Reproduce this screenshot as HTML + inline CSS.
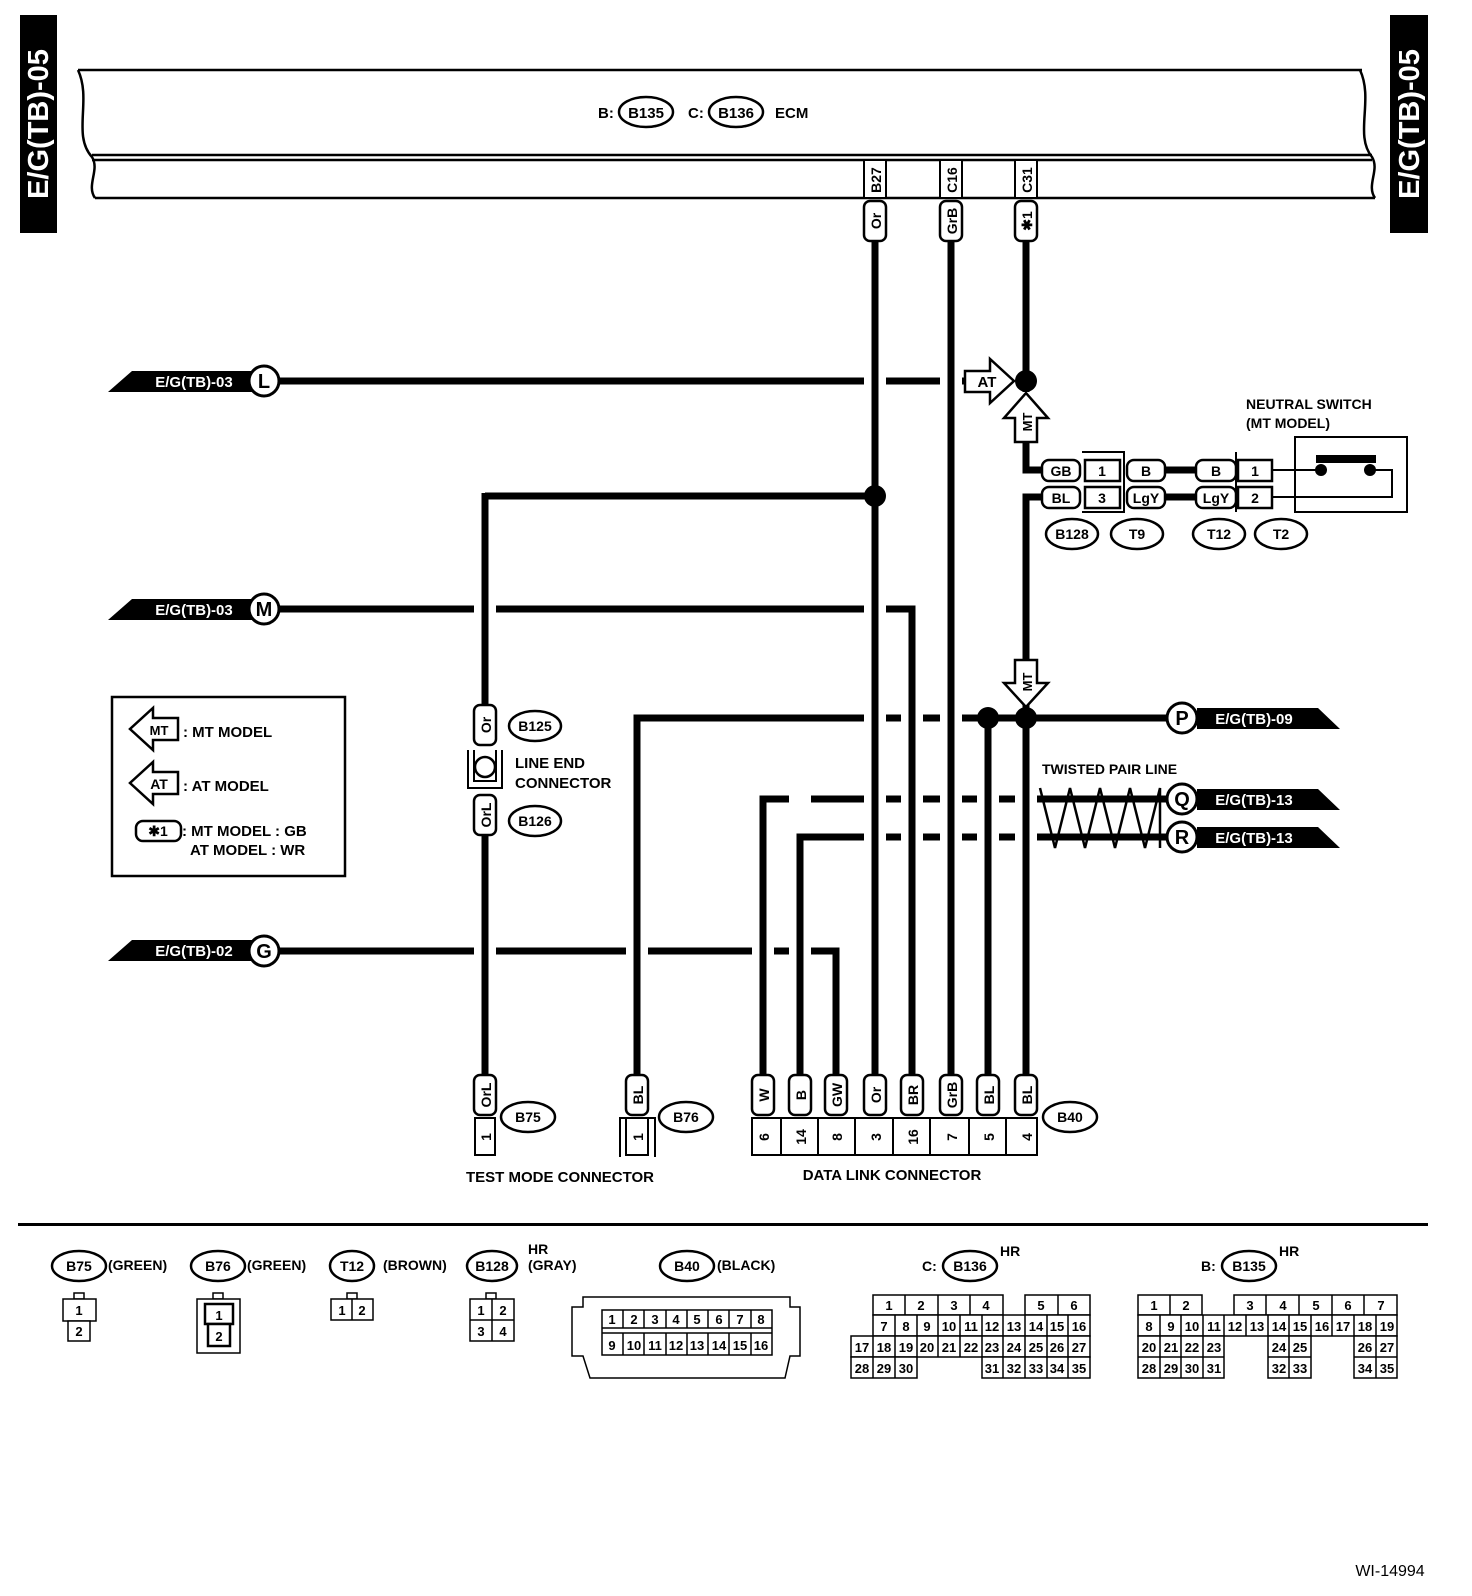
<!DOCTYPE html>
<html><head><meta charset="utf-8"><style>
html,body{margin:0;padding:0;background:#fff}
svg{display:block}
text{font-family:"Liberation Sans",Arial,sans-serif;font-weight:bold;fill:#000}
.w{fill:#fff}
</style></head><body>
<svg width="1472" height="1596" viewBox="0 0 1472 1596" xmlns="http://www.w3.org/2000/svg">
<rect x="20" y="15" width="37" height="218" fill="#000"/>
<text class="w" transform="translate(48,124) rotate(-90)" font-size="29" text-anchor="middle">E/G(TB)-05</text>
<rect x="1390" y="15" width="38" height="218" fill="#000"/>
<text class="w" transform="translate(1419,124) rotate(-90)" font-size="29" text-anchor="middle">E/G(TB)-05</text>

<g fill="none" stroke="#000" stroke-width="2.5">
<path d="M78,70 H1362"/>
<path d="M92,155 H1372 M92,160 H1372"/>
<path d="M95,198 H1375"/>
<path d="M78,70 C92,100 72,135 92,157 C100,170 86,185 95,198"/>
<path d="M1360,70 C1374,100 1354,135 1372,157 C1380,170 1366,185 1375,198"/>
</g>
<text x="598" y="118" font-size="15">B:</text>
<ellipse cx="646" cy="112" rx="27" ry="15" fill="#fff" stroke="#000" stroke-width="2.5"/>
<text x="646" y="118" font-size="15" text-anchor="middle">B135</text>
<text x="688" y="118" font-size="15">C:</text>
<ellipse cx="736" cy="112" rx="27" ry="15" fill="#fff" stroke="#000" stroke-width="2.5"/>
<text x="736" y="118" font-size="15" text-anchor="middle">B136</text>
<text x="775" y="118" font-size="15">ECM</text>

<g fill="#fff" stroke="#000" stroke-width="2">
<rect x="864" y="160" width="22" height="38"/>
<rect x="940" y="160" width="22" height="38"/>
<rect x="1015" y="160" width="22" height="38"/>
</g>
<text transform="translate(881,180) rotate(-90)" font-size="14" text-anchor="middle">B27</text>
<text transform="translate(957,180) rotate(-90)" font-size="14" text-anchor="middle">C16</text>
<text transform="translate(1032,180) rotate(-90)" font-size="14" text-anchor="middle">C31</text>

<g stroke="#000" stroke-width="7" fill="none">
<path d="M280,381 H965"/>
<path d="M875,496 H485"/>
<path d="M280,609 H912 V1075"/>
<path d="M637,1075 V718 H1168"/>
<path d="M763,1075 V799 H1168"/>
<path d="M800,1075 V837 H1168"/>
<path d="M280,951 H836 V1075"/>
<path d="M1026,240 V392"/>
<path d="M1026,442 V470 H1042"/>
<path d="M1042,497 H1026 V660"/>
<path d="M1165,470 H1196 M1165,497 H1196"/>
</g>
<g fill="#fff">
<rect x="864" y="370" width="22" height="22"/>
<rect x="940" y="370" width="22" height="22"/>
<rect x="474" y="598" width="22" height="22"/>
<rect x="864" y="598" width="22" height="22"/>
<rect x="864" y="707" width="22" height="22"/>
<rect x="901" y="707" width="22" height="22"/>
<rect x="940" y="707" width="22" height="22"/>
<rect x="789" y="788" width="22" height="22"/>
<rect x="864" y="788" width="22" height="22"/>
<rect x="901" y="788" width="22" height="22"/>
<rect x="940" y="788" width="22" height="22"/>
<rect x="977" y="788" width="22" height="22"/>
<rect x="1015" y="788" width="22" height="22"/>
<rect x="864" y="826" width="22" height="22"/>
<rect x="901" y="826" width="22" height="22"/>
<rect x="940" y="826" width="22" height="22"/>
<rect x="977" y="826" width="22" height="22"/>
<rect x="1015" y="826" width="22" height="22"/>
<rect x="474" y="940" width="22" height="22"/>
<rect x="626" y="940" width="22" height="22"/>
<rect x="752" y="940" width="22" height="22"/>
<rect x="789" y="940" width="22" height="22"/>
</g>
<g stroke="#000" stroke-width="7" fill="none">
<path d="M485,493 V705"/>
<path d="M485,835 V1075"/>
<path d="M875,240 V1075"/>
<path d="M951,240 V1075"/>
<path d="M988,718 V1075"/>
<path d="M1026,705 V1075"/>
<path d="M912,609 V1075"/>
<path d="M637,718 V1075"/>
<path d="M763,799 V1075"/>
<path d="M800,837 V1075"/>
<path d="M836,951 V1075"/>
</g>
<g fill="#000">
<circle cx="1026" cy="381" r="11"/>
<circle cx="875" cy="496" r="11"/>
<circle cx="988" cy="718" r="11"/>
<circle cx="1026" cy="718" r="11"/>
</g>

<g fill="#fff" stroke="#000" stroke-width="2.5">
<rect x="864" y="201" width="22" height="40" rx="6"/>
<rect x="940" y="201" width="22" height="40" rx="6"/>
<rect x="1015" y="201" width="22" height="40" rx="6"/>
</g>
<text transform="translate(881,221) rotate(-90)" font-size="14" text-anchor="middle">Or</text>
<text transform="translate(957,221) rotate(-90)" font-size="14" text-anchor="middle">GrB</text>
<text transform="translate(1032,221) rotate(-90)" font-size="14" text-anchor="middle">✱1</text>

<g fill="#fff" stroke="#000" stroke-width="2.5">
<path d="M965,371 H990 V359 L1014,381 L990,403 V392 H965 Z"/>
<path d="M1015,442 V418 H1004 L1026,393 L1048,418 H1037 V442 Z"/>
<path d="M1015,660 V683 H1004 L1026,707 L1048,683 H1037 V660 Z"/>
</g>
<text x="987" y="387" font-size="15" text-anchor="middle">AT</text>
<text transform="translate(1032,422) rotate(-90)" font-size="13" text-anchor="middle">MT</text>
<text transform="translate(1032,682) rotate(-90)" font-size="13" text-anchor="middle">MT</text>

<g fill="#000">
<path d="M108,392 L132,371 H256 V392 Z"/>
<path d="M108,620 L132,599 H256 V620 Z"/>
<path d="M108,961 L132,940 H256 V961 Z"/>
</g>
<g font-size="15" text-anchor="middle">
<text class="w" x="194" y="387">E/G(TB)-03</text>
<text class="w" x="194" y="615">E/G(TB)-03</text>
<text class="w" x="194" y="956">E/G(TB)-02</text>
</g>
<g fill="#fff" stroke="#000" stroke-width="3">
<circle cx="264" cy="381" r="15"/>
<circle cx="264" cy="609" r="15"/>
<circle cx="264" cy="951" r="15"/>
<circle cx="1182" cy="718" r="15"/>
<circle cx="1182" cy="799" r="15"/>
<circle cx="1182" cy="837" r="15"/>
</g>
<g font-size="20" text-anchor="middle">
<text x="264" y="388">L</text><text x="264" y="616">M</text><text x="264" y="958">G</text>
<text x="1182" y="725">P</text><text x="1182" y="806">Q</text><text x="1182" y="844">R</text>
</g>
<g fill="#000">
<path d="M1197,708 H1318 L1340,729 H1197 Z"/>
<path d="M1197,789 H1318 L1340,810 H1197 Z"/>
<path d="M1197,827 H1318 L1340,848 H1197 Z"/>
</g>
<g font-size="15" text-anchor="middle">
<text class="w" x="1254" y="724">E/G(TB)-09</text>
<text class="w" x="1254" y="805">E/G(TB)-13</text>
<text class="w" x="1254" y="843">E/G(TB)-13</text>
</g>

<text x="1042" y="774" font-size="14">TWISTED PAIR LINE</text>
<polyline fill="none" stroke="#000" stroke-width="2.5" points="1040,788 1055,848 1070,788 1085,848 1100,788 1115,848 1130,788 1145,848 1160,788 1160,848"/>

<text x="1246" y="409" font-size="14">NEUTRAL SWITCH</text>
<text x="1246" y="428" font-size="14">(MT MODEL)</text>
<g fill="#fff" stroke="#000" stroke-width="2.5">
<rect x="1042" y="460" width="38" height="21" rx="7"/>
<rect x="1042" y="487" width="38" height="21" rx="7"/>
<rect x="1127" y="460" width="38" height="21" rx="7"/>
<rect x="1127" y="487" width="38" height="21" rx="7"/>
<rect x="1196" y="460" width="40" height="21" rx="7"/>
<rect x="1196" y="487" width="40" height="21" rx="7"/>
<rect x="1085" y="460" width="35" height="21"/>
<rect x="1085" y="487" width="35" height="21"/>
<rect x="1238" y="460" width="34" height="21"/>
<rect x="1238" y="487" width="34" height="21"/>
</g>
<path d="M1082,452 H1124 V512 H1082" fill="none" stroke="#000" stroke-width="2"/>
<path d="M1236,452 V512" fill="none" stroke="#000" stroke-width="2"/>
<g font-size="14" text-anchor="middle">
<text x="1061" y="476">GB</text><text x="1061" y="503">BL</text>
<text x="1102" y="476">1</text><text x="1102" y="503">3</text>
<text x="1146" y="476">B</text><text x="1146" y="503">LgY</text>
<text x="1216" y="476">B</text><text x="1216" y="503">LgY</text>
<text x="1255" y="476">1</text><text x="1255" y="503">2</text>
</g>
<rect x="1295" y="437" width="112" height="75" fill="none" stroke="#000" stroke-width="2"/>
<g fill="none" stroke="#000" stroke-width="2">
<path d="M1272,470 H1321 M1272,497 H1392 V470 H1370"/>
</g>
<rect x="1316" y="455" width="60" height="8" fill="#000"/>
<circle cx="1321" cy="470" r="6" fill="#000"/>
<circle cx="1370" cy="470" r="6" fill="#000"/>
<g fill="#fff" stroke="#000" stroke-width="2.5">
<ellipse cx="1072" cy="534" rx="26" ry="15"/>
<ellipse cx="1137" cy="534" rx="26" ry="15"/>
<ellipse cx="1219" cy="534" rx="26" ry="15"/>
<ellipse cx="1281" cy="534" rx="26" ry="15"/>
</g>
<g font-size="14" text-anchor="middle">
<text x="1072" y="539">B128</text><text x="1137" y="539">T9</text><text x="1219" y="539">T12</text><text x="1281" y="539">T2</text>
</g>

<g fill="#fff" stroke="#000" stroke-width="2.5">
<rect x="474" y="705" width="22" height="40" rx="6"/>
<rect x="474" y="795" width="22" height="40" rx="6"/>
<ellipse cx="535" cy="726" rx="26" ry="15"/>
<ellipse cx="535" cy="821" rx="26" ry="15"/>
</g>
<path d="M468,750 V788 H502 V750 M474,750 V781 H496 V750" fill="none" stroke="#000" stroke-width="2"/>
<circle cx="485" cy="767" r="10" fill="#fff" stroke="#000" stroke-width="2.5"/>
<text transform="translate(491,725) rotate(-90)" font-size="14" text-anchor="middle">Or</text>
<text transform="translate(491,815) rotate(-90)" font-size="14" text-anchor="middle">OrL</text>
<text x="535" y="731" font-size="14" text-anchor="middle">B125</text>
<text x="535" y="826" font-size="14" text-anchor="middle">B126</text>
<text x="515" y="768" font-size="15">LINE END</text>
<text x="515" y="788" font-size="15">CONNECTOR</text>

<rect x="112" y="697" width="233" height="179" fill="none" stroke="#000" stroke-width="2.5"/>
<g fill="#fff" stroke="#000" stroke-width="2.5">
<path d="M178,718 H153 V708 L130,729 L153,750 V740 H178 Z"/>
<path d="M178,772 H153 V762 L130,783 L153,804 V794 H178 Z"/>
<rect x="136" y="821" width="45" height="20" rx="7"/>
</g>
<text x="159" y="735" font-size="13" text-anchor="middle" font-weight="normal">MT</text>
<text x="159" y="789" font-size="14" text-anchor="middle">AT</text>
<text x="158" y="836" font-size="14" text-anchor="middle">✱1</text>
<g font-size="15">
<text x="183" y="737">: MT MODEL</text>
<text x="183" y="791">: AT MODEL</text>
<text x="182" y="836">: MT MODEL : GB</text>
<text x="190" y="855">AT MODEL : WR</text>
</g>

<g fill="#fff" stroke="#000" stroke-width="2.5">
<rect x="474" y="1075" width="22" height="40" rx="6"/>
<rect x="626" y="1075" width="22" height="40" rx="6"/>
<rect x="752" y="1075" width="22" height="40" rx="6"/>
<rect x="789" y="1075" width="22" height="40" rx="6"/>
<rect x="825" y="1075" width="22" height="40" rx="6"/>
<rect x="864" y="1075" width="22" height="40" rx="6"/>
<rect x="901" y="1075" width="22" height="40" rx="6"/>
<rect x="940" y="1075" width="22" height="40" rx="6"/>
<rect x="977" y="1075" width="22" height="40" rx="6"/>
<rect x="1015" y="1075" width="22" height="40" rx="6"/>
</g>
<g font-size="14" text-anchor="middle">
<text transform="translate(491,1095) rotate(-90)">OrL</text>
<text transform="translate(643,1095) rotate(-90)">BL</text>
<text transform="translate(769,1095) rotate(-90)">W</text>
<text transform="translate(806,1095) rotate(-90)">B</text>
<text transform="translate(842,1095) rotate(-90)">GW</text>
<text transform="translate(881,1095) rotate(-90)">Or</text>
<text transform="translate(918,1095) rotate(-90)">BR</text>
<text transform="translate(957,1095) rotate(-90)">GrB</text>
<text transform="translate(994,1095) rotate(-90)">BL</text>
<text transform="translate(1032,1095) rotate(-90)">BL</text>
</g>
<g fill="#fff" stroke="#000" stroke-width="2">
<rect x="475" y="1118" width="20" height="37"/>
<path d="M620,1157 V1118 H626 M648,1118 H655 V1157"/>
<rect x="626" y="1118" width="22" height="37"/>
<rect x="752" y="1118" width="285" height="37"/>
</g>
<g stroke="#000" stroke-width="2">
<path d="M781,1118 V1155 M818,1118 V1155 M855,1118 V1155 M893,1118 V1155 M930,1118 V1155 M969,1118 V1155 M1006,1118 V1155"/>
</g>
<g font-size="14" text-anchor="middle">
<text transform="translate(491,1137) rotate(-90)">1</text>
<text transform="translate(643,1137) rotate(-90)">1</text>
<text transform="translate(769,1137) rotate(-90)">6</text>
<text transform="translate(806,1137) rotate(-90)">14</text>
<text transform="translate(842,1137) rotate(-90)">8</text>
<text transform="translate(881,1137) rotate(-90)">3</text>
<text transform="translate(918,1137) rotate(-90)">16</text>
<text transform="translate(957,1137) rotate(-90)">7</text>
<text transform="translate(994,1137) rotate(-90)">5</text>
<text transform="translate(1032,1137) rotate(-90)">4</text>
</g>
<g fill="#fff" stroke="#000" stroke-width="2.5">
<ellipse cx="528" cy="1117" rx="27" ry="15"/>
<ellipse cx="686" cy="1117" rx="27" ry="15"/>
<ellipse cx="1070" cy="1117" rx="27" ry="15"/>
</g>
<g font-size="14" text-anchor="middle">
<text x="528" y="1122">B75</text><text x="686" y="1122">B76</text><text x="1070" y="1122">B40</text>
</g>
<text x="560" y="1182" font-size="15" text-anchor="middle">TEST MODE CONNECTOR</text>
<text x="892" y="1180" font-size="15" text-anchor="middle">DATA LINK CONNECTOR</text>

<rect x="18" y="1223" width="1410" height="3" fill="#000"/>

<g fill="#fff" stroke="#000" stroke-width="2.5">
<ellipse cx="79" cy="1266" rx="27" ry="15"/>
<ellipse cx="218" cy="1266" rx="27" ry="15"/>
<ellipse cx="352" cy="1266" rx="22" ry="15"/>
<ellipse cx="492" cy="1266" rx="25" ry="15"/>
<ellipse cx="687" cy="1266" rx="27" ry="15"/>
<ellipse cx="970" cy="1266" rx="27" ry="15"/>
<ellipse cx="1249" cy="1266" rx="27" ry="15"/>
</g>
<g font-size="14">
<text x="79" y="1271" text-anchor="middle">B75</text>
<text x="218" y="1271" text-anchor="middle">B76</text>
<text x="352" y="1271" text-anchor="middle">T12</text>
<text x="492" y="1271" text-anchor="middle">B128</text>
<text x="687" y="1271" text-anchor="middle">B40</text>
<text x="970" y="1271" text-anchor="middle">B136</text>
<text x="1249" y="1271" text-anchor="middle">B135</text>
<text x="108" y="1270">(GREEN)</text>
<text x="247" y="1270">(GREEN)</text>
<text x="383" y="1270">(BROWN)</text>
<text x="528" y="1270">(GRAY)</text>
<text x="528" y="1254">HR</text>
<text x="717" y="1270">(BLACK)</text>
<text x="922" y="1271">C:</text>
<text x="1000" y="1256">HR</text>
<text x="1201" y="1271">B:</text>
<text x="1279" y="1256">HR</text>
</g>
<g fill="#fff" stroke="#000" stroke-width="1.5">
<rect x="74" y="1293" width="10" height="6"/>
<rect x="63" y="1299" width="33" height="22"/>
<rect x="68" y="1321" width="22" height="20"/>
<rect x="213" y="1293" width="10" height="6"/>
<rect x="197" y="1299" width="43" height="54"/>
<rect x="205" y="1304" width="28" height="20" stroke-width="2.5"/>
<rect x="208" y="1324" width="22" height="22" stroke-width="2.5"/>
<rect x="347" y="1293" width="10" height="6"/>
<rect x="331" y="1299" width="42" height="21"/>
<path d="M352,1299 V1320"/>
<rect x="486" y="1293" width="10" height="6"/>
<rect x="470" y="1299" width="44" height="42"/>
<path d="M492,1299 V1341 M470,1320 H514"/>
<path d="M583,1297 H790 V1307 H800 V1356 H790 L785,1378 H590 L583,1356 H572 V1307 H583 Z"/>
<rect x="602" y="1310" width="170" height="45"/>
<path d="M602,1328 H772 M602,1333 H772 M623,1310 V1328 M644,1310 V1328 M666,1310 V1328 M687,1310 V1328 M708,1310 V1328 M729,1310 V1328 M751,1310 V1328 M623,1333 V1355 M644,1333 V1355 M666,1333 V1355 M687,1333 V1355 M708,1333 V1355 M729,1333 V1355 M751,1333 V1355"/>
</g>
<g font-size="13" text-anchor="middle" style="font-weight:normal">
<text x="79" y="1315">1</text><text x="79" y="1336">2</text>
<text x="219" y="1320">1</text><text x="219" y="1341">2</text>
<text x="342" y="1315">1</text><text x="362" y="1315">2</text>
<text x="481" y="1315">1</text><text x="503" y="1315">2</text>
<text x="481" y="1336">3</text><text x="503" y="1336">4</text>
</g>
<g font-size="13" text-anchor="middle" style="font-weight:normal">
<text x="612" y="1324">1</text><text x="634" y="1324">2</text><text x="655" y="1324">3</text><text x="676" y="1324">4</text><text x="697" y="1324">5</text><text x="719" y="1324">6</text><text x="740" y="1324">7</text><text x="761" y="1324">8</text>
<text x="612" y="1350">9</text><text x="634" y="1350">10</text><text x="655" y="1350">11</text><text x="676" y="1350">12</text><text x="697" y="1350">13</text><text x="719" y="1350">14</text><text x="740" y="1350">15</text><text x="761" y="1350">16</text>
</g>

<g fill="#fff" stroke="#000" stroke-width="1.5">
<path d="M873,1295 H1003 V1315 H873 Z M905,1295 V1315 M938,1295 V1315 M970,1295 V1315"/>
<path d="M1025,1295 H1090 V1315 H1025 Z M1058,1295 V1315"/>
<path d="M873,1315 H1090 V1336 H873 Z M895,1315 V1336 M917,1315 V1336 M938,1315 V1336 M960,1315 V1336 M982,1315 V1336 M1003,1315 V1336 M1025,1315 V1336 M1047,1315 V1336 M1068,1315 V1336"/>
<path d="M851,1336 H1090 V1357 H851 Z M873,1336 V1357 M895,1336 V1357 M917,1336 V1357 M938,1336 V1357 M960,1336 V1357 M982,1336 V1357 M1003,1336 V1357 M1025,1336 V1357 M1047,1336 V1357 M1068,1336 V1357"/>
<path d="M851,1357 H917 V1378 H851 Z M873,1357 V1378 M895,1357 V1378"/>
<path d="M982,1357 H1090 V1378 H982 Z M1003,1357 V1378 M1025,1357 V1378 M1047,1357 V1378 M1068,1357 V1378"/>
</g>
<g font-size="13" text-anchor="middle" style="font-weight:normal">
<text x="889" y="1310">1</text><text x="921" y="1310">2</text><text x="954" y="1310">3</text><text x="986" y="1310">4</text><text x="1041" y="1310">5</text><text x="1074" y="1310">6</text>
<text x="884" y="1331">7</text><text x="906" y="1331">8</text><text x="927" y="1331">9</text><text x="949" y="1331">10</text><text x="971" y="1331">11</text><text x="992" y="1331">12</text><text x="1014" y="1331">13</text><text x="1036" y="1331">14</text><text x="1057" y="1331">15</text><text x="1079" y="1331">16</text>
<text x="862" y="1352">17</text><text x="884" y="1352">18</text><text x="906" y="1352">19</text><text x="927" y="1352">20</text><text x="949" y="1352">21</text><text x="971" y="1352">22</text><text x="992" y="1352">23</text><text x="1014" y="1352">24</text><text x="1036" y="1352">25</text><text x="1057" y="1352">26</text><text x="1079" y="1352">27</text>
<text x="862" y="1373">28</text><text x="884" y="1373">29</text><text x="906" y="1373">30</text>
<text x="992" y="1373">31</text><text x="1014" y="1373">32</text><text x="1036" y="1373">33</text><text x="1057" y="1373">34</text><text x="1079" y="1373">35</text>
</g>

<g fill="#fff" stroke="#000" stroke-width="1.5">
<path d="M1138,1295 H1202 V1315 H1138 Z M1170,1295 V1315"/>
<path d="M1234,1295 H1397 V1315 H1234 Z M1266,1295 V1315 M1299,1295 V1315 M1332,1295 V1315 M1364,1295 V1315"/>
<path d="M1138,1315 H1397 V1336 H1138 Z M1160,1315 V1336 M1181,1315 V1336 M1203,1315 V1336 M1224,1315 V1336 M1246,1315 V1336 M1268,1315 V1336 M1289,1315 V1336 M1311,1315 V1336 M1332,1315 V1336 M1354,1315 V1336 M1376,1315 V1336"/>
<path d="M1138,1336 H1224 V1378 H1138 Z M1160,1336 V1378 M1181,1336 V1378 M1203,1336 V1378 M1138,1357 H1224"/>
<path d="M1268,1336 H1311 V1378 H1268 Z M1289,1336 V1378 M1268,1357 H1311"/>
<path d="M1354,1336 H1397 V1378 H1354 Z M1376,1336 V1378 M1354,1357 H1397"/>
</g>
<g font-size="13" text-anchor="middle" style="font-weight:normal">
<text x="1154" y="1310">1</text><text x="1186" y="1310">2</text><text x="1250" y="1310">3</text><text x="1283" y="1310">4</text><text x="1316" y="1310">5</text><text x="1348" y="1310">6</text><text x="1381" y="1310">7</text>
<text x="1149" y="1331">8</text><text x="1171" y="1331">9</text><text x="1192" y="1331">10</text><text x="1214" y="1331">11</text><text x="1235" y="1331">12</text><text x="1257" y="1331">13</text><text x="1279" y="1331">14</text><text x="1300" y="1331">15</text><text x="1322" y="1331">16</text><text x="1343" y="1331">17</text><text x="1365" y="1331">18</text><text x="1387" y="1331">19</text>
<text x="1149" y="1352">20</text><text x="1171" y="1352">21</text><text x="1192" y="1352">22</text><text x="1214" y="1352">23</text><text x="1279" y="1352">24</text><text x="1300" y="1352">25</text><text x="1365" y="1352">26</text><text x="1387" y="1352">27</text>
<text x="1149" y="1373">28</text><text x="1171" y="1373">29</text><text x="1192" y="1373">30</text><text x="1214" y="1373">31</text><text x="1279" y="1373">32</text><text x="1300" y="1373">33</text><text x="1365" y="1373">34</text><text x="1387" y="1373">35</text>
</g>

<text x="1390" y="1576" font-size="16" text-anchor="middle" style="font-weight:normal">WI-14994</text>
</svg>
</body></html>
